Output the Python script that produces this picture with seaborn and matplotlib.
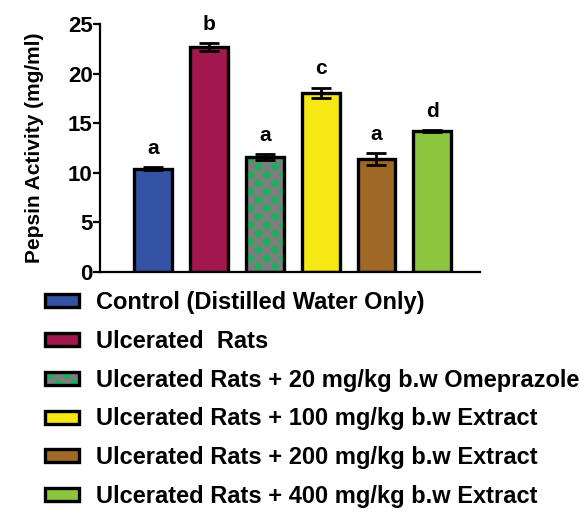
import numpy as np
import pandas as pd
import matplotlib.pyplot as plt
import matplotlib.colors as mcolors
import seaborn as sns

groups = ["Control (Distilled Water Only)",
          "Ulcerated  Rats",
          "Ulcerated Rats + 20 mg/kg b.w Omeprazole",
          "Ulcerated Rats + 100 mg/kg b.w Extract",
          "Ulcerated Rats + 200 mg/kg b.w Extract",
          "Ulcerated Rats + 400 mg/kg b.w Extract"]
pepsin = [10.4, 22.7, 11.6, 18.1, 11.4, 14.2]
sem = [0.15, 0.4, 0.3, 0.5, 0.6, 0.1]
letters = ["a", "b", "a", "c", "a", "d"]
colors = ["#3553a5", "#a3174f", "#1fae5b", "#f6e812", "#a06827", "#8cc63e"]

df = pd.DataFrame({"group": groups, "pepsin": pepsin, "sem": sem})

sns.set_style("ticks")
plt.rcParams['font.family'] = ['Liberation Sans', 'DejaVu Sans']
plt.rcParams['font.weight'] = 'bold'
plt.rcParams['text.color'] = 'black'
plt.rcParams['axes.labelcolor'] = 'black'
plt.rcParams['xtick.color'] = 'black'
plt.rcParams['ytick.color'] = 'black'
plt.rcParams['axes.edgecolor'] = 'black'
plt.rcParams['hatch.linewidth'] = 3.4

fig = plt.figure(figsize=(5.8, 5.16), dpi=100)
ax = fig.add_axes([0.172, 0.473, 0.656, 0.48])

sns.barplot(data=df, x="group", y="pepsin", hue="group", palette=colors,
            saturation=1, width=0.68, edgecolor="black", linewidth=2.4,
            legend=False, errorbar=None, ax=ax)

# omeprazole bar: gray lattice over green dots
p = ax.patches[2]
p.set_hatch("xx")
p._hatch_color = mcolors.to_rgba("#7d7d7d")

ax.errorbar(np.arange(len(groups)), df["pepsin"], yerr=df["sem"], fmt="none",
            ecolor="black", elinewidth=2, capsize=7.5, capthick=2)

for i, (v, s, l) in enumerate(zip(pepsin, sem, letters)):
    ax.text(i, v + s + 1.9, l, ha="center", va="center", fontsize=15,
            fontweight="bold")

ax.set_xlim(-0.96, 5.86)
ax.set_ylim(0, 25)
ax.set_yticks([0, 5, 10, 15, 20, 25])
ax.set_xticks([])
ax.set_xlabel("")
ax.set_ylabel("Pepsin Activity (mg/ml)", fontsize=15, fontweight="bold",
              labelpad=17)
ax.tick_params(axis="y", labelsize=16, width=1.6, length=5, pad=0)
for lab in ax.get_yticklabels():
    lab.set_fontweight("bold")
sns.despine(ax=ax)
ax.spines["left"].set_linewidth(1.6)
ax.spines["bottom"].set_linewidth(1.6)

handles = ax.patches[:len(groups)]
fig.legend(handles, groups, loc="upper left", bbox_to_anchor=(0.058, 0.459),
           frameon=False, handlelength=1.4, handleheight=0.47,
           labelspacing=0.67, handletextpad=0.72, borderpad=0,
           prop={"weight": "bold", "size": 17})

fig.savefig("out.png", dpi=100)
